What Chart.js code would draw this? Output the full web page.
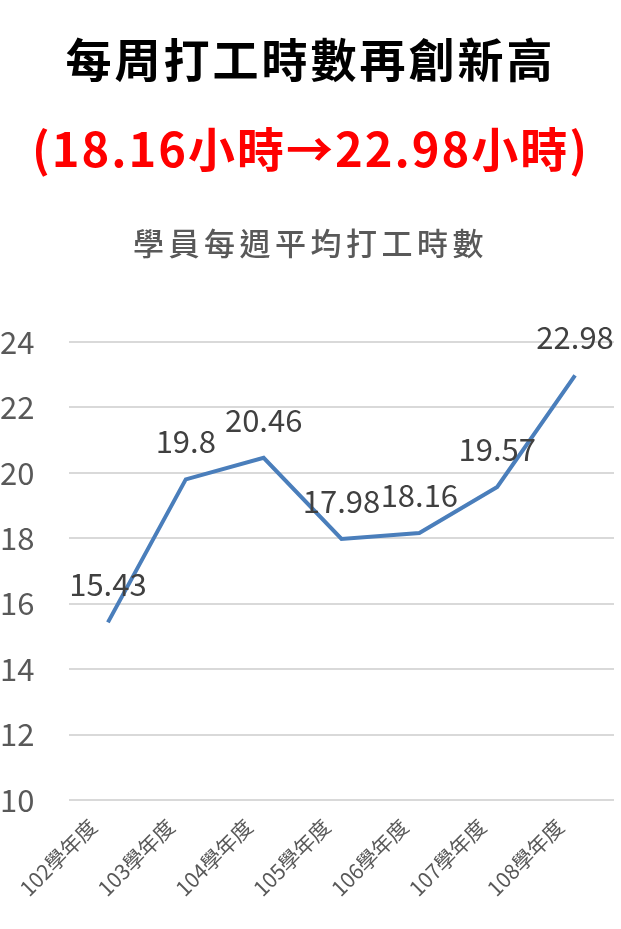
<!DOCTYPE html>
<html>
<head>
<meta charset="utf-8">
<script src="https://cdn.jsdelivr.net/npm/chart.js@4"></script>
<style>
  html, body { margin: 0; padding: 0; background: #fff; }
  body { width: 621px; height: 929px; position: relative; overflow: hidden;
         font-family: "Noto Sans CJK TC", "Noto Sans", sans-serif; }
  .t { position: absolute; left: 0; width: 621px; text-align: center; white-space: nowrap; }
  #title { top: 25px; font-size: 46px; font-weight: 700; color: #000; letter-spacing: 3px; line-height: 64px; }
  #subtitle { top: 115px; font-size: 47px; font-weight: 700; color: #ff0000; letter-spacing: 2px; line-height: 64px; }
  #chartTitle { top: 221px; font-size: 31px; font-weight: 500; color: #595959; letter-spacing: 4.5px; line-height: 42px; }
  #wrap { position: absolute; left: 0; top: 0; width: 621px; height: 929px; }
</style>
</head>
<body>
<div id="wrap"><canvas id="lineChart"></canvas></div>
<div class="t" id="title">每周打工時數再創新高</div>
<div class="t" id="subtitle">(18.16小時→22.98小時)</div>
<div class="t" id="chartTitle">學員每週平均打工時數</div>
<script>
// data
const years = ['102學年度', '103學年度', '104學年度', '105學年度', '106學年度', '107學年度', '108學年度'];
const hours = [15.43, 19.8, 20.46, 17.98, 18.16, 19.57, 22.98];
const yTicks = [10, 12, 14, 16, 18, 20, 22, 24];

// labels above each point, placed from the chart's own scales
const pointLabels = {
    id: 'pointLabels',
    afterDatasetsDraw(chart) {
        const ctx = chart.ctx;
        const meta = chart.getDatasetMeta(0);
        ctx.save();
        ctx.font = '31px "Noto Sans CJK TC", "Noto Sans", sans-serif';
        ctx.fillStyle = '#404040';
        ctx.textAlign = 'center';
        ctx.textBaseline = 'middle';
        meta.data.forEach((pt, i) => {
            ctx.fillText(String(hours[i]), pt.x, pt.y - 38);
        });
        ctx.restore();
    }
};

new Chart(document.getElementById('lineChart'), {
    type: 'line',
    data: {
        labels: years,
        datasets: [{
            data: hours,
            borderColor: '#4a7ebb',
            borderWidth: 4,
            pointRadius: 0,
            tension: 0,
            fill: false
        }]
    },
    options: {
        responsive: true,
        maintainAspectRatio: false,
        animation: false,
        layout: { padding: { top: 342, right: 7, bottom: 0, left: 0 } },
        plugins: {
            legend: { display: false },
            tooltip: { enabled: false }
        },
        scales: {
            y: {
                min: 10,
                max: 24,
                afterBuildTicks(scale) { scale.ticks = yTicks.map(v => ({ value: v })); },
                afterFit(scale) { scale.width = 69; },
                border: { display: false },
                grid: { color: '#d9d9d9', lineWidth: 2, drawTicks: false },
                ticks: {
                    color: '#595959',
                    font: { size: 31, family: '"Noto Sans CJK TC", "Noto Sans", sans-serif' },
                    crossAlign: 'far',
                    padding: 4
                }
            },
            x: {
                offset: true,
                afterFit(scale) { scale.height = 129; },
                border: { display: false },
                grid: { display: false },
                ticks: {
                    color: '#595959',
                    font: { size: 21, family: '"Noto Sans CJK TC", "Noto Sans", sans-serif' },
                    minRotation: 45,
                    maxRotation: 45,
                    labelOffset: -15,
                    padding: 6,
                    autoSkip: false
                }
            }
        }
    },
    plugins: [pointLabels]
});
</script>
</body>
</html>
